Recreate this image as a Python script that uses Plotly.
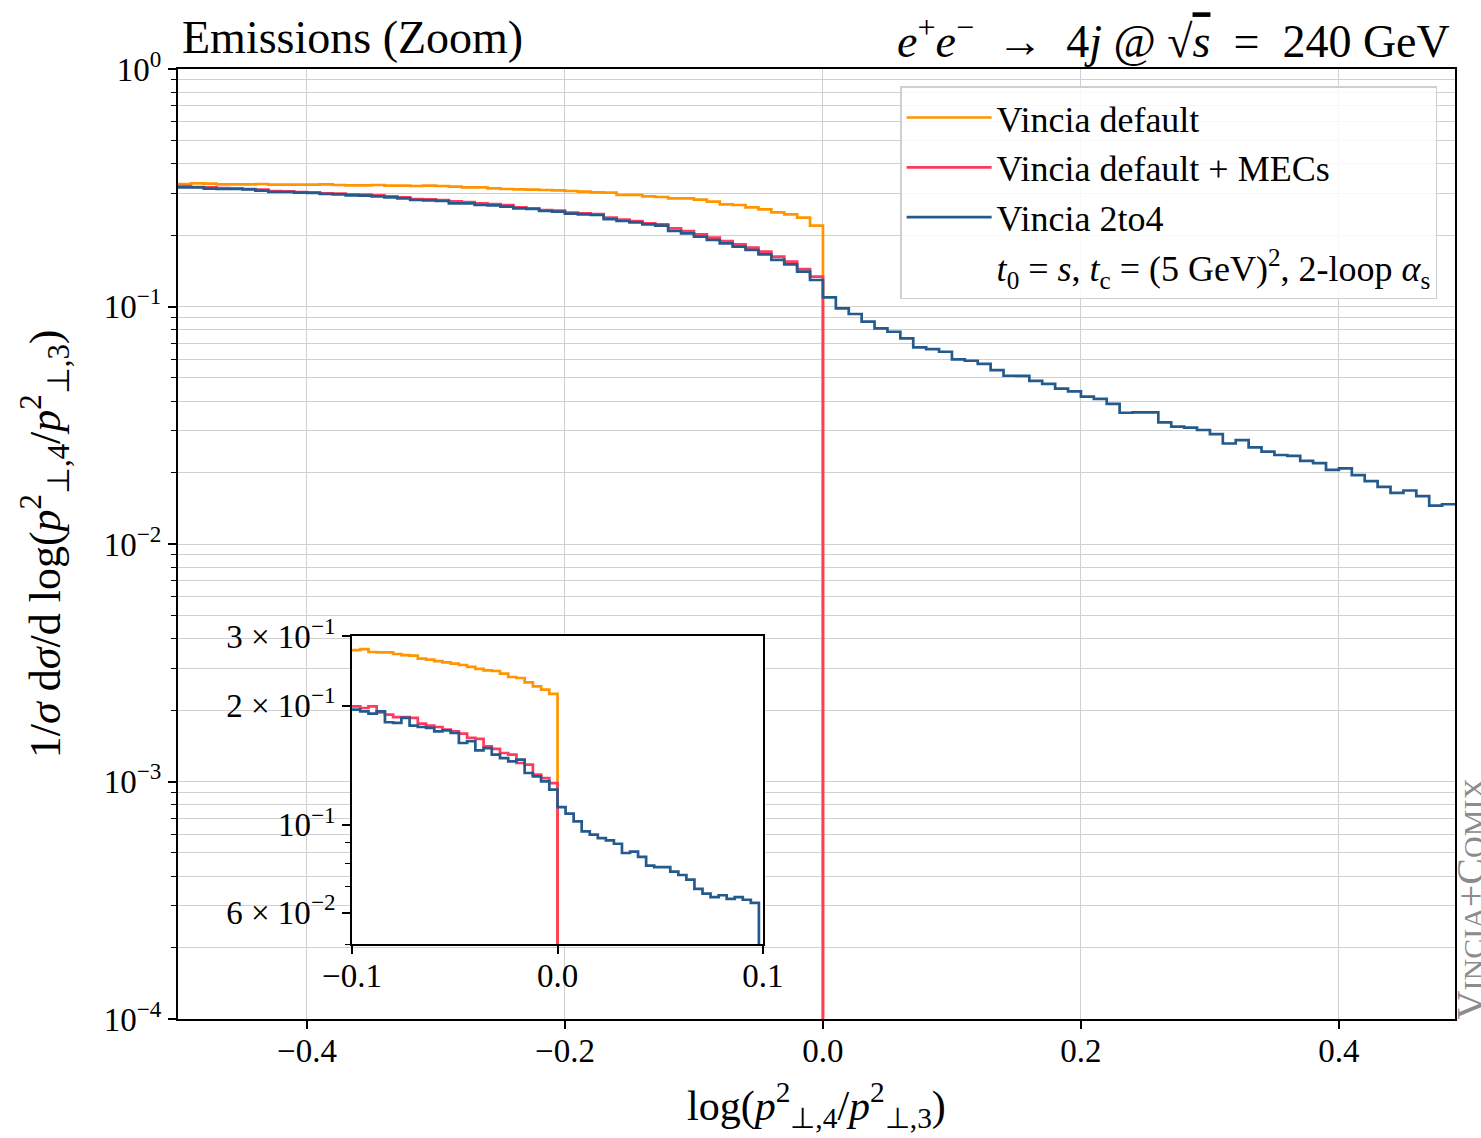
import numpy as np
import plotly.graph_objects as go

# ---------------- data ----------------
# main panel: bins of width 0.01 starting at -0.5
main_bin_start = -0.5
main_bin_width = 0.01

main_orange = [0.3280, 0.3300, 0.3290, 0.3269, 0.3269, 0.3269, 0.3280, 0.3258, 0.3258, 0.3258,
               0.3258, 0.3269, 0.3248, 0.3237, 0.3237, 0.3248, 0.3226, 0.3226, 0.3216, 0.3226,
               0.3216, 0.3195, 0.3175, 0.3175, 0.3144,
               0.3124, 0.3114, 0.3104, 0.3094, 0.3084, 0.3064, 0.3044, 0.3025, 0.3015, 0.2948,
               0.2948, 0.2910, 0.2891, 0.2854, 0.2854, 0.2817, 0.2763, 0.2692, 0.2675, 0.2615,
               0.2565, 0.2492, 0.2444, 0.2366, 0.2189, 0.0]

main_red = [0.3216, 0.3185, 0.3175, 0.3154, 0.3144, 0.3124, 0.3104, 0.3064, 0.3054, 0.3035,
            0.3025, 0.2995, 0.2986, 0.2967, 0.2957, 0.2938, 0.2910, 0.2881, 0.2836, 0.2827,
            0.2808, 0.2772, 0.2754, 0.2719, 0.2701,
            0.2675, 0.2615, 0.2590, 0.2549, 0.2532, 0.2484, 0.2468, 0.2452, 0.2366, 0.2320,
            0.2291, 0.2239, 0.2218, 0.2133, 0.2079, 0.2013, 0.1949, 0.1887, 0.1827, 0.1769,
            0.1702, 0.1621, 0.1544, 0.1438, 0.1335, 0.0]

main_blue = [0.3175, 0.3175, 0.3133, 0.3124, 0.3124, 0.3114, 0.3074, 0.3035, 0.3035, 0.3015,
             0.3005, 0.2976, 0.2967, 0.2938, 0.2928, 0.2910, 0.2881, 0.2854, 0.2808, 0.2799,
             0.2781, 0.2719, 0.2719, 0.2675, 0.2667,
             0.2631, 0.2590, 0.2574, 0.2524, 0.2508, 0.2460, 0.2444, 0.2428, 0.2335, 0.2291,
             0.2261, 0.2218, 0.2189, 0.2079, 0.2032, 0.1968, 0.1905, 0.1845, 0.1786, 0.1729,
             0.1658, 0.1570, 0.1505, 0.1401, 0.1293,
             0.1093, 0.0982, 0.0930, 0.0863, 0.0809, 0.0783, 0.0734, 0.0673, 0.0662, 0.0645,
             0.0599, 0.0591, 0.0573, 0.0540, 0.0511, 0.0510, 0.0486, 0.0472, 0.0451, 0.0439,
             0.0417, 0.0408, 0.0389, 0.0357, 0.0358,
             0.0358, 0.0325, 0.0312, 0.0309, 0.0302, 0.0290, 0.0265, 0.0274, 0.0255, 0.0245,
             0.0237, 0.0235, 0.0224, 0.0219, 0.0205, 0.0208, 0.0195, 0.0184, 0.0174, 0.0164,
             0.0168, 0.0159, 0.0145, 0.0147]

# inset panel: finer binning
inset_neg_start, inset_neg_end, inset_pos_end = -0.1, 0.0, 0.098
inset_orange = [0.2764, 0.2780, 0.2733, 0.2727, 0.2727, 0.2701, 0.2685, 0.2675, 0.2629, 0.2614,
                0.2593, 0.2574, 0.2554, 0.2534, 0.2505, 0.2476, 0.2457, 0.2447, 0.2409, 0.2363,
                0.2349, 0.2291, 0.2238, 0.2195, 0.2141, 0.0]
inset_red = [0.1993, 0.1973, 0.1993, 0.1924, 0.1898, 0.1872, 0.1872, 0.1862, 0.1802, 0.1781,
             0.1767, 0.1740, 0.1723, 0.1700, 0.1658, 0.1648, 0.1579, 0.1555, 0.1519, 0.1504,
             0.1433, 0.1419, 0.1339, 0.1313, 0.1275, 0.0]
inset_blue = [0.1954, 0.1935, 0.1909, 0.1935, 0.1816, 0.1809, 0.1862, 0.1781, 0.1767, 0.1757,
              0.1723, 0.1733, 0.1706, 0.1610, 0.1626, 0.1542, 0.1563, 0.1504, 0.1475, 0.1447,
              0.1461, 0.1352, 0.1326, 0.1288, 0.1227,
              0.1109, 0.1067, 0.1021, 0.0963, 0.0945, 0.0926, 0.0914, 0.0896, 0.0849, 0.0856,
              0.0830, 0.0789, 0.0782, 0.0782, 0.0762, 0.0747, 0.0727, 0.0689, 0.0670, 0.0657,
              0.0664, 0.0650, 0.0657, 0.0647, 0.0635, 0.0]

names = ["Vincia default", "Vincia default + MECs", "Vincia 2to4"]
note = "<i>t</i><sub>0</sub> = <i>s</i>, <i>t</i><sub>c</sub> = (5 GeV)<sup>2</sup>, 2-loop <i>α</i><sub>s</sub>"
colors = ["#ff9500", "#ff3a60", "#255a8c"]

main_yticks = [1e-4, 1e-3, 1e-2, 1e-1, 1.0]
main_yticktext = ["10<sup>−4</sup>", "10<sup>−3</sup>", "10<sup>−2</sup>", "10<sup>−1</sup>", "10<sup>0</sup>"]
inset_yticks = [0.06, 0.1, 0.2, 0.3]
inset_yticktext = ["6 × 10<sup>−2</sup>", "10<sup>−1</sup>", "2 × 10<sup>−1</sup>", "3 × 10<sup>−1</sup>"]

FLOOR = 1e-9  # empty bins on log scale


def step_xy(edges, vals):
    v = [x if x > 0 else FLOOR for x in vals]
    return list(edges), v + [v[-1]]


def main_edges(n):
    return np.round(main_bin_start + main_bin_width * np.arange(n + 1), 6)


def inset_edges_left(nvals):
    nb = nvals - 1
    e = np.linspace(inset_neg_start, inset_neg_end, nb + 1)
    w = (inset_neg_end - inset_neg_start) / nb
    return np.append(e, inset_neg_end + w)


def inset_edges_blue(nvals):
    nb_half = (nvals - 1) // 2
    e1 = np.linspace(inset_neg_start, inset_neg_end, nb_half + 1)
    e2 = np.linspace(inset_neg_end, inset_pos_end, nb_half + 1)[1:]
    w = (inset_pos_end - inset_neg_end) / nb_half
    return np.concatenate([e1, e2, [inset_pos_end + w]])


fig = go.Figure()
LW = 2.7
main_sets = [(main_orange, main_edges(len(main_orange))),
             (main_red, main_edges(len(main_red))),
             (main_blue, main_edges(len(main_blue)))]
for (vals, edges), nm, c in zip(main_sets, names, colors):
    x, y = step_xy(edges, vals)
    fig.add_trace(go.Scatter(x=x, y=y, mode="lines", line=dict(color=c, width=LW, shape="hv"),
                             name=nm, xaxis="x", yaxis="y"))
fig.add_trace(go.Scatter(x=[None], y=[None], mode="lines", line=dict(color="rgba(0,0,0,0)", width=LW),
                         name=note, xaxis="x", yaxis="y"))

inset_sets = [(inset_orange, inset_edges_left(len(inset_orange))),
              (inset_red, inset_edges_left(len(inset_red))),
              (inset_blue, inset_edges_blue(len(inset_blue)))]
for (vals, edges), c in zip(inset_sets, colors):
    x, y = step_xy(edges, vals)
    fig.add_trace(go.Scatter(x=x, y=y, mode="lines", line=dict(color=c, width=LW, shape="hv"),
                             showlegend=False, xaxis="x2", yaxis="y2"))

FONT = "Liberation Serif"
GRID = "#d0d0d0"
main_minor = [k * 10.0 ** d for d in range(-4, 0) for k in range(2, 10)]
inset_minor = [0.05, 0.07, 0.08, 0.09]

fig.update_layout(
    width=1481, height=1138,
    margin=dict(l=178, r=26, t=69, b=119, autoexpand=False),
    paper_bgcolor="white", plot_bgcolor="white",
    font=dict(family=FONT, size=33, color="black"),
    xaxis=dict(domain=[0, 1], anchor="y", range=[-0.5, 0.49], tickvals=[-0.4, -0.2, 0.0, 0.2, 0.4],
               tickformat=".1f", showgrid=True, gridcolor=GRID, gridwidth=1.3, zeroline=False,
               showline=True, linecolor="black", linewidth=2, mirror=True, automargin=False,
               ticks="outside", ticklen=8, tickwidth=1.6, tickcolor="black", tickfont=dict(size=33),
               ticklabelstandoff=-7),
    yaxis=dict(domain=[0, 1], anchor="x", type="log", range=[-4, 0], tickmode="array",
               tickvals=main_yticks, ticktext=main_yticktext, automargin=False,
               showgrid=True, gridcolor=GRID, gridwidth=1.3, zeroline=False,
               showline=True, linecolor="black", linewidth=2, mirror=True,
               ticks="outside", ticklen=8, tickwidth=1.6, tickcolor="black", tickfont=dict(size=33),
               minor=dict(tickmode="array", tickvals=main_minor, ticks="outside", ticklen=5,
                          tickwidth=1.2, tickcolor="black", showgrid=True, gridcolor=GRID, gridwidth=1.3)),
    xaxis2=dict(domain=[0.1363, 0.4581], anchor="y2", range=[-0.1, 0.1], tickvals=[-0.1, 0.0, 0.1],
                tickformat=".1f", showgrid=False, zeroline=False, automargin=False,
                showline=True, linecolor="black", linewidth=2, mirror=True,
                ticks="outside", ticklen=8, tickwidth=1.6, tickcolor="black", tickfont=dict(size=33),
                ticklabelstandoff=-7),
    yaxis2=dict(domain=[0.0789, 0.4032], anchor="x2", type="log", automargin=False,
                range=[np.log10(0.05), np.log10(0.3)], tickmode="array",
                tickvals=inset_yticks, ticktext=inset_yticktext, showgrid=False, zeroline=False,
                showline=True, linecolor="black", linewidth=2, mirror=True,
                ticks="outside", ticklen=8, tickwidth=1.6, tickcolor="black", tickfont=dict(size=33),
                minor=dict(tickmode="array", tickvals=inset_minor, ticks="outside", ticklen=5,
                           tickwidth=1.2, tickcolor="black", showgrid=False)),
    legend=dict(x=0.986, xanchor="right", y=0.982, yanchor="top",
                bgcolor="rgba(255,255,255,0.85)", bordercolor="#cfcfcf", borderwidth=1.5,
                font=dict(family=FONT, size=36), tracegroupgap=0, itemwidth=85),
    annotations=[
        dict(text="Emissions (Zoom)", xref="paper", yref="paper", x=0.0016, y=1.033,
             xanchor="left", yanchor="middle", showarrow=False, font=dict(size=46)),
        dict(text="<i>e</i><sup>+</sup><i>e</i><sup>−</sup>  →  4<i>j</i> @ √<span style='text-decoration:overline'><i>s</i></span>  =  240 GeV",
             xref="paper", yref="paper", x=0.9977, y=1.033,
             xanchor="right", yanchor="middle", showarrow=False, font=dict(size=46)),
        dict(text="log(<i>p</i><sup>2</sup><sub>⊥,4</sub>/<i>p</i><sup>2</sup><sub>⊥,3</sub>)",
             xref="paper", yref="paper", x=0.5, y=-0.0905, xanchor="center", yanchor="middle",
             showarrow=False, font=dict(size=42)),
        dict(text="1/<i>σ</i> d<i>σ</i>/d log(<i>p</i><sup>2</sup><sub>⊥,4</sub>/<i>p</i><sup>2</sup><sub>⊥,3</sub>)",
             xref="paper", yref="paper", x=-0.104, y=0.5, xanchor="center", yanchor="middle",
             textangle=-90, showarrow=False, font=dict(size=44)),
        dict(text="V<span style='font-size:30px'>INCIA</span>+C<span style='font-size:30px'>OMIX</span>",
             xref="paper", yref="paper", x=1.0118, y=0.127, xanchor="center", yanchor="middle",
             textangle=-90, showarrow=False, font=dict(size=40, color="#8c8c8c")),
    ],
)

fig.write_html("out.html")
